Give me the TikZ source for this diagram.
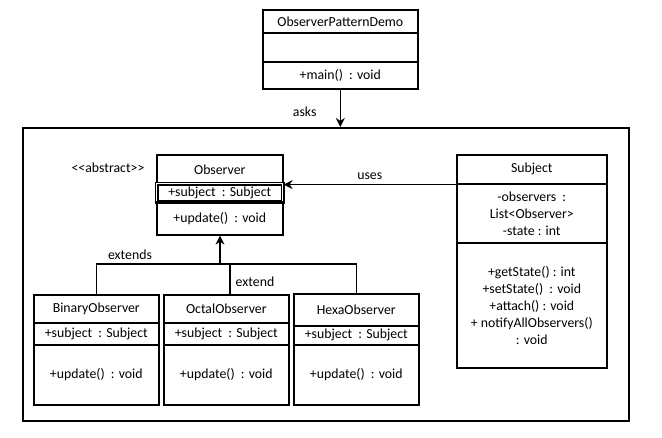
\documentclass[tikz,border=0pt]{standalone}
\usepackage{fontspec}
\setmainfont{Carlito}
\usetikzlibrary{arrows.meta,positioning}

\begin{document}
\begin{tikzpicture}[x=1pt,y=-1pt,
  cell/.style 2 args={draw,line width=1.6pt,minimum width=#1,minimum height=#2,inner sep=0pt,anchor=north west,align=center,font=\fontsize{13.8}{17}\selectfont},
  line/.style={line width=1.6pt},
  arr/.style={line width=1.6pt,-{Stealth[length=9pt,width=9pt]}},
  lab/.style={font=\fontsize{13.8}{17}\selectfont,inner sep=1pt}]
  \useasboundingbox (0,0) rectangle (662,437);
  % main class on top
  \node[cell={155}{23}] (demo)     at (262,9)  {ObserverPatternDemo};
  \node[cell={155}{29}] (demoattr) at (262,32) {};
  \node[cell={155}{27}] (demoops)  at (262,61) {+main()~ : void};
  % package frame
  \node[cell={606}{293}] (frame) at (22,127) {};
  % Observer
  \node[cell={126}{29}] (obs)     at (156,154) {Observer};
  \node[cell={126}{18},double,double distance=1pt] (obsattr) at (156,183) {+subject~ : Subject};
  \node[cell={126}{33}] (obsops)  at (156,201) {+update()~ : void};
  \node[lab] (abstract) at (108,168) {<{}<abstract>{}>};
  % Subject
  \node[cell={150}{29}]  (subj)     at (456,154) {Subject};
  \node[cell={150}{59}]  (subjattr) at (456,183) {-observers~ :\\List<Observer>\\-state : int};
  \node[cell={150}{125}] (subjops)  at (456,242) {+getState() : int\\+setState()~ : void\\+attach() : void\\+ notifyAllObservers()\\: void};
  % concrete observers
  \node[cell={125}{28}] (bin)     at (33,294)  {BinaryObserver};
  \node[cell={125}{22}] (binattr) at (33,322)  {+subject~ : Subject};
  \node[cell={125}{60}] (binops)  at (33,344)  {+update()~ : void};
  \node[cell={125}{28}] (oct)     at (163,294) {OctalObserver};
  \node[cell={125}{22}] (octattr) at (163,322) {+subject~ : Subject};
  \node[cell={125}{60}] (octops)  at (163,344) {+update()~ : void};
  \node[cell={125}{32}] (hexa)     at (293,293) {HexaObserver};
  \node[cell={125}{19}] (hexaattr) at (293,325) {+subject~ : Subject};
  \node[cell={125}{60}] (hexaops)  at (293,344) {+update()~ : void};
  % connectors
  \draw[arr] (demoops.south) -- node[lab,pos=0.6,left=22pt]{asks} (demoops.south |- frame.north);
  \draw[arr] (subj.south west) -- node[lab,above=3pt]{uses} (obs.south east);
  \coordinate (fork) at (220,264);
  \draw[arr] (fork) -- (fork |- obsops.south);
  \draw[line] (bin.north) -- (bin.north |- fork) -- (hexa.north |- fork) -- (hexa.north);
  \draw[line] (oct.north -| 230,0) -- (230,264);
  \node[lab] (extends) at (130,255) {extends};
  \node[lab] (extend)  at (255,282) {extend};
\end{tikzpicture}
\end{document}
